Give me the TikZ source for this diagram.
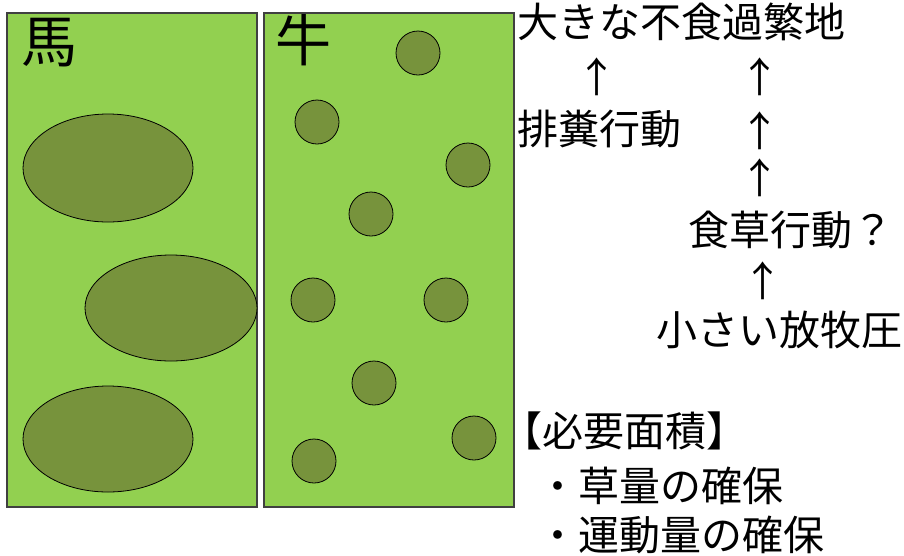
\documentclass[tikz,border=0pt]{standalone}
\usepackage{fontspec}
\newfontfamily\jp{Noto Sans CJK JP}
\usetikzlibrary{shapes.geometric}
\definecolor{pasture}{HTML}{92D050}
\definecolor{patch}{HTML}{77933C}
\definecolor{frame}{HTML}{404040}
\tikzset{
  field/.style={draw=frame, line width=1.3pt, fill=pasture},
  bigpatch/.style={ellipse, draw=black, line width=0.8pt, fill=patch, inner sep=0pt},
  smallpatch/.style={circle, draw=black, line width=0.8pt, fill=patch, inner sep=0pt, minimum size=44pt},
  jtxt/.style={inner sep=0pt, anchor=west, font=\jp\fontsize{41}{41}\selectfont, text height=0.88em, text depth=0.12em},
  jarr/.style={inner sep=0pt, anchor=center, font=\jp\fontsize{41}{41}\selectfont, text height=0.88em, text depth=0.12em},
  animal/.style={inner sep=0pt, anchor=center, font=\jp\fontsize{56}{56}\selectfont, text height=0.88em, text depth=0.12em}
}
\begin{document}
\begin{tikzpicture}[x=1pt, y=-1pt]
\useasboundingbox (0,0) rectangle (904,555);
% fields
\draw[field] (7,13) rectangle (257,507);
\draw[field] (264,13) rectangle (514,507);
% horse patches
\node[bigpatch, minimum width=170pt, minimum height=108pt] (h1) at (108,168) {};
\node[bigpatch, minimum width=172pt, minimum height=106pt] (h2) at (171,308) {};
\node[bigpatch, minimum width=170pt, minimum height=106pt] (h3) at (108,439) {};
% cow patches
\node[smallpatch] (c1) at (418,53) {};
\node[smallpatch] (c2) at (317,122) {};
\node[smallpatch] (c3) at (468,165) {};
\node[smallpatch] (c4) at (371,214) {};
\node[smallpatch] (c5) at (313,300) {};
\node[smallpatch] (c6) at (446,300) {};
\node[smallpatch] (c7) at (374,383) {};
\node[smallpatch] (c8) at (474,438) {};
\node[smallpatch] (c9) at (314,461) {};
% labels
\node[animal] (horse) at (49,59) {馬};
\node[animal] (cow) at (303,58) {牛};
% right text
\node[jtxt] (t1) at (517,34) {大きな不食過繁地};
\node[jarr] (a1) at (597,89) {↑};
\node[jarr] (a2) at (760,89) {↑};
\node[jtxt] (t2) at (517,141) {排糞行動};
\node[jarr] (a3) at (760,143) {↑};
\node[jarr] (a4) at (760,190) {↑};
\node[jtxt] (t3) at (688,242) {食草行動？};
\node[jarr] (a5) at (763,293) {↑};
\node[jtxt] (t4) at (656,342) {小さい放牧圧};
\node[jtxt] (t5) at (501,443) {【必要面積】};
\node[jtxt] (t6) at (537,498) {・草量の確保};
\node[jtxt] (t7) at (537,547) {・運動量の確保};
\end{tikzpicture}
\end{document}
